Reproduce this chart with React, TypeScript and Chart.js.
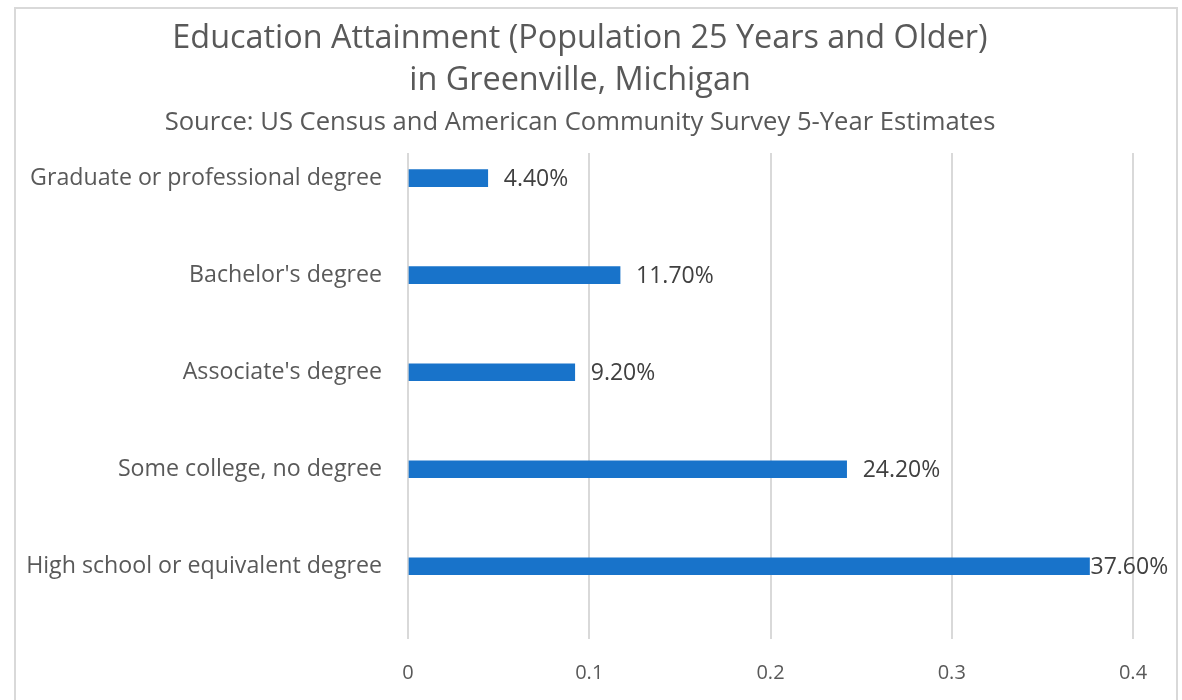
import React, { useEffect, useRef } from "react";
import { Chart, registerables } from "chart.js";

Chart.register(...registerables);

const categories = [
  "Graduate or professional degree",
  "Bachelor's degree",
  "Associate's degree",
  "Some college, no degree",
  "High school or equivalent degree",
];
const values = [0.044, 0.117, 0.092, 0.242, 0.376];
const valueLabels = ["4.40%", "11.70%", "9.20%", "24.20%", "37.60%"];
const xTicks = [0, 0.1, 0.2, 0.3, 0.4];
const titleLines = ["Education Attainment (Population 25 Years and Older)", "in Greenville, Michigan"];
const subtitleText = "Source: US Census and American Community Survey 5-Year Estimates";

const FONT = "'Open Sans', 'Noto Sans', sans-serif";

const framePlugin = {
  id: "frame",
  beforeDraw(chart: any) {
    const ctx = chart.ctx;
    ctx.save();
    ctx.fillStyle = "#ffffff";
    ctx.fillRect(0, 0, chart.width, chart.height);
    ctx.strokeStyle = "#d9d9d9";
    ctx.lineWidth = 2;
    ctx.strokeRect(15, 8, chart.width - 20, chart.height + 10);
    ctx.restore();
  },
};

const labelPlugin = {
  id: "valueLabels",
  afterDatasetsDraw(chart: any) {
    const ctx = chart.ctx;
    const meta = chart.getDatasetMeta(0);
    ctx.save();
    ctx.font = `23px ${FONT}`;
    ctx.fillStyle = "#404040";
    ctx.textAlign = "left";
    ctx.textBaseline = "middle";
    meta.data.forEach((bar: any, i: number) => {
      const text = valueLabels[i];
      const w = ctx.measureText(text).width;
      let x = bar.x + 16;
      if (x + w > 1170) x = bar.x + 1;
      ctx.fillText(text, x, bar.y + 1);
    });
    ctx.restore();
  },
};

export default function App() {
  const ref = useRef<HTMLCanvasElement>(null);
  useEffect(() => {
    if (!ref.current) return;
    const points = values.map((v, i) => ({ x: v, y: i }));
    const chart = new Chart(ref.current, {
      type: "bar",
      data: {
        datasets: [
          {
            data: points,
            backgroundColor: "#1873CA",
            barThickness: 17,
          },
        ],
      },
      plugins: [framePlugin, labelPlugin],
      options: {
        indexAxis: "y",
        animation: false,
        responsive: false,
        maintainAspectRatio: false,
        layout: { padding: { left: 27, right: 49, top: 0, bottom: 0 } },
        plugins: {
          legend: { display: false },
          tooltip: { enabled: false },
          title: {
            display: true,
            text: titleLines,
            color: "#595959",
            font: { family: FONT, size: 32.4, weight: "normal", lineHeight: 1.3 },
            padding: { top: 18, bottom: 5 },
          },
          subtitle: {
            display: true,
            text: subtitleText,
            color: "#595959",
            font: { family: FONT, size: 25.6, weight: "normal", lineHeight: 1.2 },
            padding: { top: 0, bottom: 15 },
          },
        },
        scales: {
          x: {
            type: "linear",
            min: 0,
            max: 0.4,
            afterBuildTicks(scale: any) {
              scale.ticks = xTicks.map((v) => ({ value: v }));
            },
            ticks: {
              color: "#595959",
              font: { family: FONT, size: 20 },
              padding: 22,
              callback: (v: any) => String(Math.round(Number(v) * 10) / 10),
            },
            grid: { color: "#d9d9d9", lineWidth: 2, drawTicks: false },
            border: { display: false },
            afterFit(scale: any) {
              scale.height = 61;
            },
          },
          y: {
            type: "linear",
            reverse: true,
            offset: false,
            min: -0.26,
            max: 4.75,
            afterBuildTicks(scale: any) {
              scale.ticks = categories.map((_, i) => ({ value: i }));
            },
            ticks: {
              color: "#595959",
              font: { family: FONT, size: 23.2 },
              padding: 26,
              autoSkip: false,
              callback: (v: any) => categories[Number(v)] ?? "",
            },
            grid: { display: false, drawTicks: false, offset: false },
            border: { display: false },
            afterFit(scale: any) {
              scale.width = 381;
            },
          },
        },
      },
    });
    return () => chart.destroy();
  }, []);
  return (
    <div style={{ position: "absolute", left: 0, top: 0, width: 1182, height: 700 }}>
      <canvas ref={ref} width={1182} height={700} />
    </div>
  );
}
